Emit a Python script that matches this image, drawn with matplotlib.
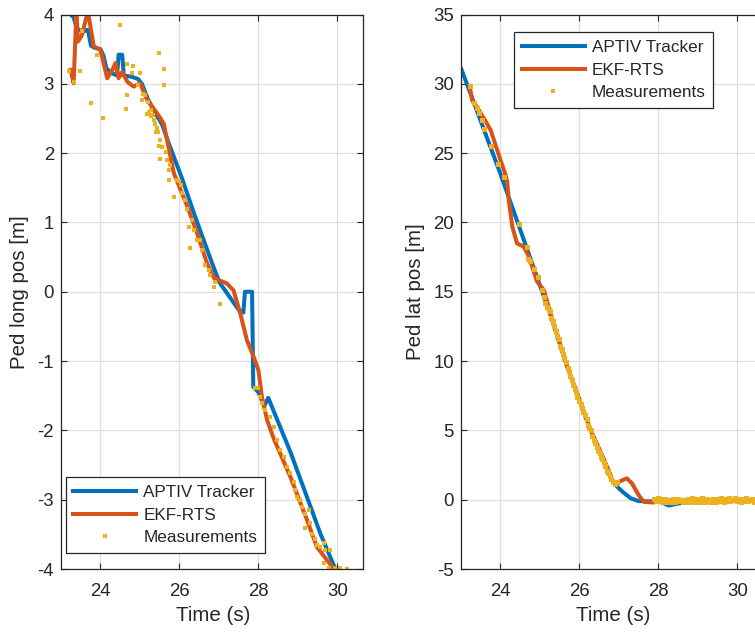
import matplotlib
matplotlib.use("Agg")
import matplotlib.pyplot as plt

# ---------------- data: left panel (longitudinal position) ----------------
long_trk_t = [23.10, 23.20, 23.32, 23.40, 23.55, 23.68, 23.76, 23.85, 24.00, 24.08, 24.15,
              24.30, 24.42, 24.46, 24.55, 24.59, 24.80, 24.95, 25.05, 25.20, 25.42, 25.57,
              25.73, 26.05, 26.40, 26.86, 27.02, 27.50, 27.62, 27.66, 27.84, 27.87, 28.00,
              28.15, 28.25, 28.30, 28.81, 29.23, 29.57, 29.95]
long_trk_v = [4.08, 4.02, 3.96, 3.80, 3.75, 3.78, 3.55, 3.52, 3.50, 3.40, 3.22,
              3.15, 3.12, 3.42, 3.42, 3.12, 3.10, 3.07, 3.00, 2.78, 2.55, 2.40,
              2.14, 1.66, 1.08, 0.36, 0.13, -0.26, -0.30, 0.00, 0.00, -1.37, -1.45,
              -1.65, -1.53, -1.60, -2.31, -2.96, -3.49, -4.00]

long_ekf_t = [23.24, 23.32, 23.39, 23.43, 23.53, 23.68, 23.76, 23.83, 24.00, 24.17, 24.30,
              24.38, 24.46, 24.55, 24.68, 24.84, 25.00, 25.18, 25.44, 25.60, 25.65, 25.86,
              26.03, 26.20, 26.45, 26.70, 26.87, 27.20, 27.37, 27.54, 27.71, 27.88, 28.00,
              28.09, 28.22, 28.39, 28.81, 29.23, 29.48, 29.90]
long_ekf_v = [3.20, 3.01, 4.05, 3.61, 3.70, 4.05, 3.78, 3.54, 3.49, 3.08, 3.20,
              3.30, 3.08, 3.17, 3.03, 2.96, 3.01, 2.77, 2.57, 2.43, 2.29, 1.71,
              1.47, 1.23, 0.84, 0.41, 0.20, 0.12, 0.02, -0.31, -0.70, -0.94, -1.13,
              -1.52, -1.85, -2.12, -2.67, -3.29, -3.68, -3.99]

long_meas_t = [23.20, 23.34, 23.48, 23.53, 23.77, 23.92, 24.07, 24.49, 24.64, 24.68, 24.68,
               24.79, 24.83, 24.95, 25.00, 25.04, 25.08, 25.12, 25.18, 25.20, 25.24, 25.27,
               25.29, 25.32, 25.35, 25.38, 25.40, 25.43, 25.46, 25.48, 25.49, 25.50, 25.52,
               25.56, 25.60, 25.60, 25.65, 25.69, 25.73, 25.73, 25.77, 25.86, 25.94, 26.00,
               26.03, 26.07, 26.15, 26.19, 26.24, 26.28, 26.32, 26.36, 26.45, 26.53, 26.57,
               26.66, 26.74, 26.78, 26.87, 26.91, 27.02, 27.92, 28.00, 28.05, 28.09, 28.18,
               28.30, 28.39, 28.47, 28.56, 28.64, 28.73, 28.81, 28.89, 28.94, 28.98, 29.06,
               29.10, 29.18, 29.27, 29.18, 29.30, 29.35, 29.43, 29.48, 29.57, 29.65, 29.70,
               29.82, 29.65, 29.78, 29.95, 30.08, 30.25]
long_meas_v = [3.18, 3.02, 3.18, 3.76, 2.72, 3.42, 2.51, 3.85, 2.64, 2.84, 3.28,
               3.16, 3.26, 2.98, 3.16, 2.77, 2.86, 2.84, 2.57, 2.74, 2.60, 2.53,
               2.62, 2.55, 2.48, 2.42, 2.30, 2.36, 2.30, 2.10, 3.44, 1.92, 2.19,
               2.09, 3.21, 2.98, 2.02, 1.90, 1.76, 1.61, 1.83, 1.37, 1.61, 1.60,
               1.54, 1.42, 1.32, 1.20, 0.94, 0.63, 1.03, 0.89, 0.75, 0.75, 0.60,
               0.39, 0.31, 0.24, 0.07, 0.14, -0.18, -1.39, -1.39, -1.52, -1.61, -1.71,
               -1.80, -1.95, -2.14, -2.28, -2.38, -2.53, -2.62, -2.74, -2.86, -2.96, -3.00,
               -3.10, -3.20, -3.15, -3.41, -3.34, -3.49, -3.56, -3.66, -3.68, -3.63, -3.73,
               -3.73, -3.92, -3.99, -3.99, -3.98, -4.00]

# ---------------- data: right panel (lateral position) ----------------
lat_trk_t = [23.01, 24.00, 25.31, 25.69, 26.28, 26.62, 26.87, 27.10, 27.30, 27.50, 27.80,
             28.00, 28.26, 28.55, 29.00, 30.00, 30.70]
lat_trk_v = [31.05, 23.50, 12.96, 9.59, 5.03, 2.86, 1.18, 0.55, 0.10, -0.10, -0.12,
             -0.10, -0.42, -0.25, -0.10, -0.05, 0.00]

lat_ekf_t = [23.22, 23.28, 23.37, 23.58, 23.75, 24.00, 24.13, 24.17, 24.21, 24.30, 24.42,
             24.59, 24.72, 24.93, 25.10, 25.31, 25.69, 26.28, 26.62, 26.87, 27.00, 27.20,
             27.33, 27.50, 27.63, 27.86]
lat_ekf_v = [29.84, 28.83, 28.47, 27.51, 26.67, 24.50, 23.42, 22.94, 21.60, 19.69, 18.49,
             18.25, 17.53, 15.72, 15.12, 13.00, 9.60, 5.05, 2.90, 1.18, 1.29, 1.54,
             1.18, 0.33, -0.15, -0.20]

lat_meas_t = [23.22, 23.34, 23.40, 23.45, 23.52, 23.58, 23.77, 23.93, 24.08, 24.48, 24.66,
              24.69, 24.75, 24.84, 24.95, 25.05, 25.11, 25.14, 25.18, 25.22, 25.25, 25.28,
              25.32, 25.36, 25.40, 25.44, 25.47, 25.51, 25.55, 25.58, 25.62, 25.66, 25.70,
              25.73, 25.77, 25.81, 25.84, 25.88, 25.92, 25.95, 25.99, 26.03, 26.06, 26.10,
              26.14, 26.18, 26.21, 26.25, 26.29, 26.32, 26.36, 26.40, 26.44, 26.47, 26.51,
              26.55, 26.58, 26.62, 26.66, 26.70, 26.73, 26.77, 26.81, 26.85, 26.90, 26.95,
              27.90, 27.94, 27.98, 28.02, 28.06, 28.10, 28.14, 28.18, 28.22, 28.26, 28.30,
              28.34, 28.38, 28.42, 28.46, 28.50, 28.54, 28.58, 28.62, 28.66, 28.70, 28.74,
              28.78, 28.82, 28.86, 28.90, 28.94, 28.98, 29.02, 29.06, 29.10, 29.14, 29.18,
              29.22, 29.26, 29.30, 29.34, 29.38, 29.42, 29.46, 29.50, 29.54, 29.58, 29.62,
              29.66, 29.70, 29.74, 29.78, 29.82, 29.86, 29.90, 29.94, 29.98, 30.02, 30.06,
              30.10, 30.14, 30.18, 30.22, 30.26, 30.30, 30.34, 30.38, 30.42, 30.46, 30.50,
              30.54, 30.58, 30.62]
lat_meas_v = [29.84, 28.59, 28.28, 27.87, 27.39, 26.72, 25.53, 24.21, 23.25, 19.88, 18.20,
              17.34, 17.20, 16.62, 16.04, 15.12, 14.64, 14.16, 13.92, 13.68, 13.60, 13.10,
              12.90, 12.50, 12.20, 11.80, 11.60, 11.10, 10.90, 10.50, 10.20, 9.90, 9.50,
              9.30, 8.90, 8.60, 8.30, 8.00, 7.80, 7.40, 7.10, 6.90, 6.60, 6.30,
              6.10, 5.80, 5.40, 5.20, 5.00, 4.60, 4.30, 4.10, 3.80, 3.50, 3.40,
              3.10, 2.90, 2.70, 2.40, 2.10, 1.90, 1.70, 1.50, 1.30, 1.10, 1.30,
              0.05, -0.12, 0.12, -0.08, 0.02, -0.18, -0.06, 0.06, -0.15, -0.02, -0.20,
              -0.08, 0.04, -0.16, -0.04, 0.08, -0.12, -0.02, -0.18, 0.00, -0.10, 0.07,
              -0.15, -0.03, 0.10, -0.08, -0.18, 0.03, -0.05, -0.14, 0.09, -0.02, -0.16,
              0.05, -0.10, 0.00, -0.18, 0.08, -0.06, -0.15, 0.04, -0.09, 0.11, -0.03,
              -0.16, 0.03, -0.07, 0.10, -0.13, 0.00, -0.05, 0.12, -0.10, -0.01, 0.06,
              -0.17, 0.03, -0.08, 0.09, -0.12, 0.01, -0.05, 0.08, -0.15, 0.04, -0.02,
              0.10, -0.09, 0.00]

xticks = [24, 26, 28, 30]
long_yticks = [-4, -3, -2, -1, 0, 1, 2, 3, 4]
lat_yticks = [-5, 0, 5, 10, 15, 20, 25, 30, 35]
labels = ["APTIV Tracker", "EKF-RTS", "Measurements"]

# ---------------- styling ----------------
C_BLUE = "#0072BD"
C_ORANGE = "#D95319"
C_YELLOW = "#EDB120"
C_AX = "#262626"
plt.rcParams['font.family'] = ['Liberation Sans', 'DejaVu Sans']
plt.rcParams['axes.unicode_minus'] = False

fig = plt.figure(figsize=(7.55, 6.34), dpi=100)
axL = fig.add_axes([61 / 755, 65 / 634, 302 / 755, 554.5 / 634])
axR = fig.add_axes([461 / 755, 65 / 634, 302 / 755, 554.5 / 634])


def style(ax, yticks, ylim, ylabel, ylabx):
    ax.set_xlim(23.0, 30.65)
    ax.set_ylim(*ylim)
    ax.set_xticks(xticks)
    ax.set_yticks(yticks)
    ax.grid(True, color="#dfdfdf", linewidth=0.9)
    ax.set_axisbelow(True)
    for s in ax.spines.values():
        s.set_color(C_AX)
        s.set_linewidth(0.9)
    ax.tick_params(direction="in", length=4, width=0.8, top=True, right=True,
                   colors=C_AX, labelsize=13.4)
    ax.tick_params(axis="x", pad=10)
    ax.tick_params(axis="y", pad=5)
    ax.set_xlabel("Time (s)", fontsize=14.8, color=C_AX, va="center")
    ax.xaxis.set_label_coords(0.505, -0.083)
    ax.set_ylabel(ylabel, fontsize=14.8, color=C_AX, va="center")
    ax.yaxis.set_label_coords(ylabx, 0.5)


def draw(ax, tt, tv, et, ev, mt, mv, ms):
    h1, = ax.plot(tt, tv, color=C_BLUE, lw=2.9, solid_joinstyle="round")
    h2, = ax.plot(et, ev, color=C_ORANGE, lw=2.9, solid_joinstyle="round")
    h3, = ax.plot(mt, mv, ls="none", marker="s", ms=ms, mew=0, color=C_YELLOW)
    return [h1, h2, h3]


hL = draw(axL, long_trk_t, long_trk_v, long_ekf_t, long_ekf_v, long_meas_t, long_meas_v, 3.2)
hR = draw(axR, lat_trk_t, lat_trk_v, lat_ekf_t, lat_ekf_v, lat_meas_t, lat_meas_v, 3.6)

style(axL, long_yticks, (-4, 4), "Ped long pos [m]", -0.139)
style(axR, lat_yticks, (-5, 35), "Ped lat pos [m]", -0.152)

legkw = dict(fontsize=12.3, frameon=True, fancybox=False, framealpha=1,
             edgecolor=C_AX, borderpad=0.45, labelspacing=0.45, handlelength=3.7,
             handletextpad=0.4, borderaxespad=0, numpoints=1)
legL = axL.legend(hL, labels, loc="lower left", bbox_to_anchor=(0.015, 0.029),
                  markerscale=0.8, **legkw)
legR = axR.legend(hR, labels, loc="upper left", bbox_to_anchor=(0.175, 0.968),
                  markerscale=0.72, **legkw)
for lg in (legL, legR):
    lg.get_frame().set_linewidth(0.9)
    for t in lg.get_texts():
        t.set_color(C_AX)

fig.savefig("out.png", dpi=100)
